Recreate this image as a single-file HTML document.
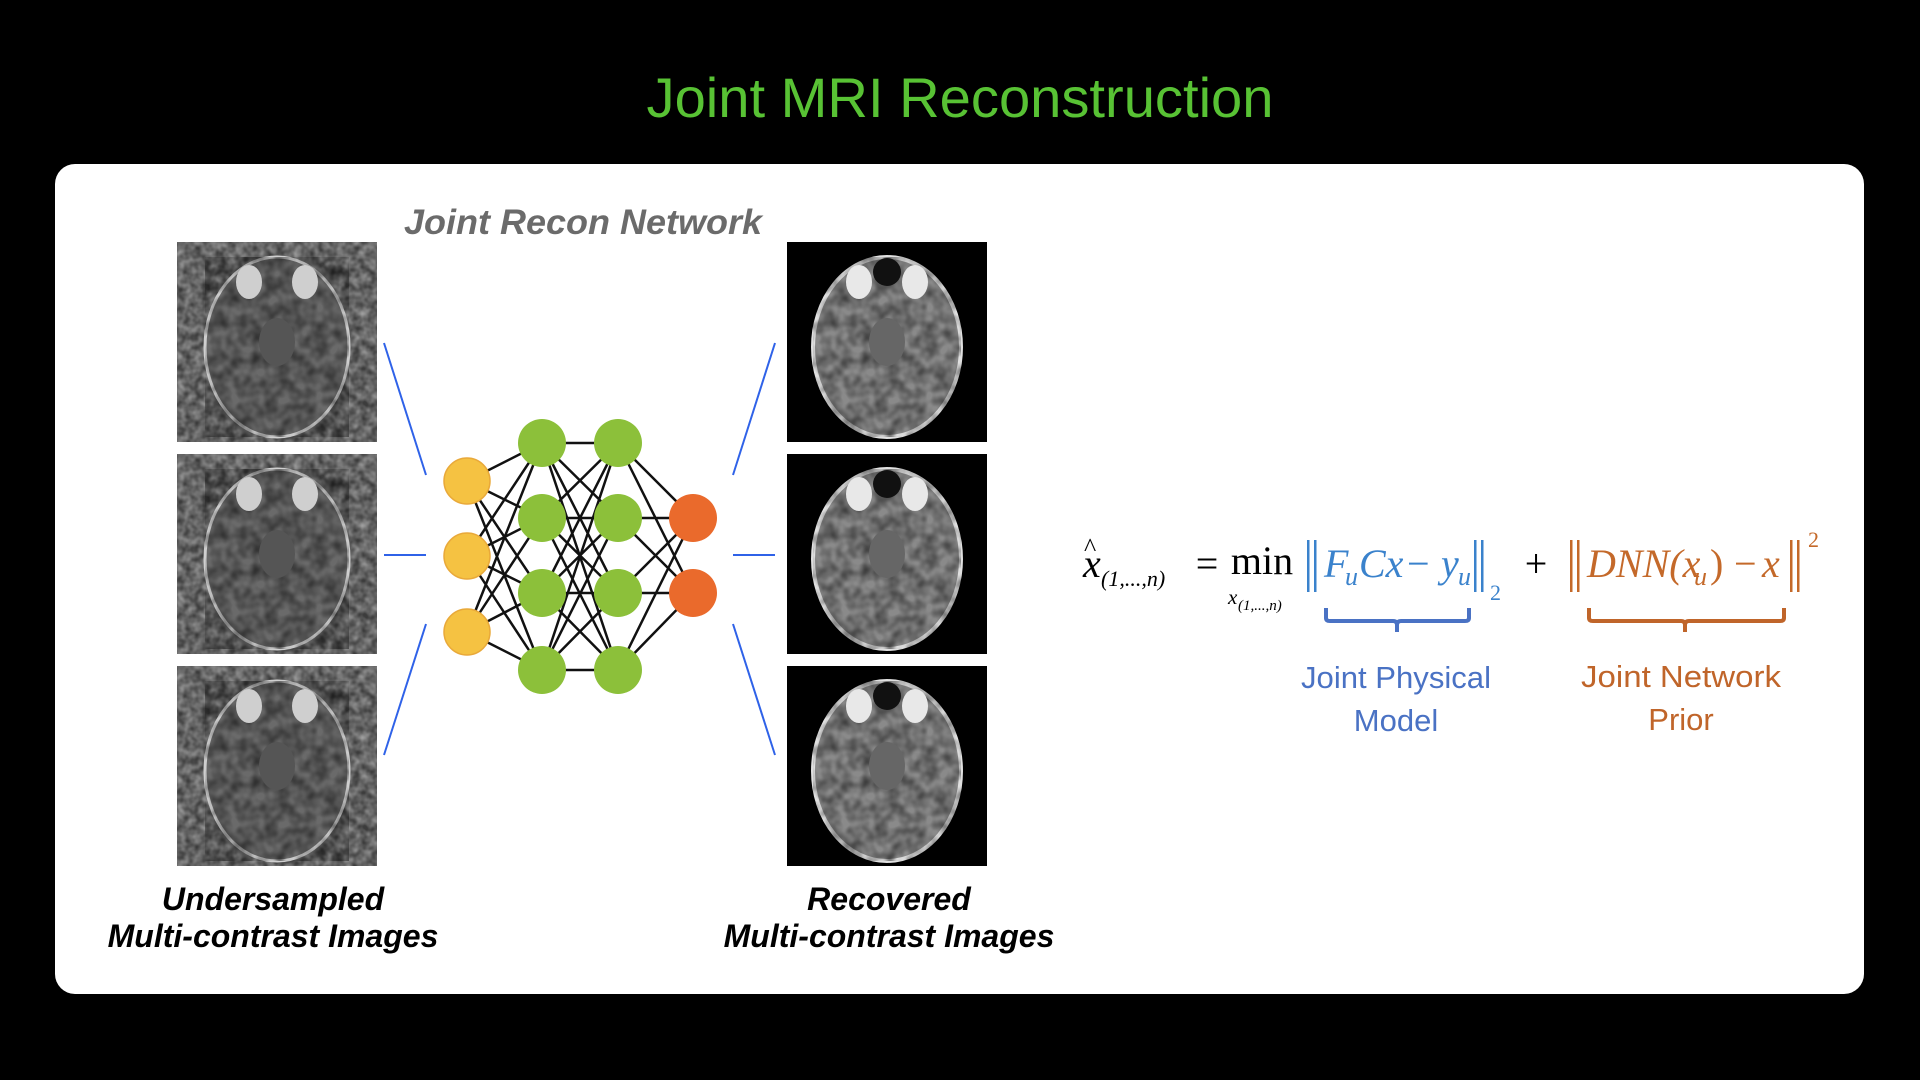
<!DOCTYPE html>
<html><head><meta charset="utf-8"><style>
html,body{margin:0;padding:0;background:#000;width:1920px;height:1080px;overflow:hidden}
svg{display:block}
</style></head><body>
<svg width="1920" height="1080" viewBox="0 0 1920 1080" xmlns="http://www.w3.org/2000/svg">
<defs>
<filter id="noise" x="0" y="0" width="100%" height="100%">
<feTurbulence type="fractalNoise" baseFrequency="0.12" numOctaves="2" seed="3"/>
<feColorMatrix type="matrix" values="0 0 0 0 0.35  0 0 0 0 0.35  0 0 0 0 0.35  0 0 0 1.4 -0.3"/>
</filter>
<filter id="tex" x="0" y="0" width="100%" height="100%">
<feTurbulence type="fractalNoise" baseFrequency="0.08" numOctaves="2" seed="7"/>
<feColorMatrix type="matrix" values="0 0 0 0 0  0 0 0 0 0  0 0 0 0 0  0 0 0 0.9 -0.25"/>
</filter>
<g id="brainN">
<rect width="200" height="200" fill="#3c3c3c"/>
<rect width="200" height="200" filter="url(#noise)"/>
<ellipse cx="100" cy="105" rx="72" ry="90" fill="#6a6a6a" stroke="#cfcfcf" stroke-width="3"/>
<ellipse cx="100" cy="105" rx="72" ry="90" filter="url(#tex)"/>
<ellipse cx="72" cy="40" rx="13" ry="17" fill="#cfcfcf"/>
<ellipse cx="128" cy="40" rx="13" ry="17" fill="#cfcfcf"/>
<ellipse cx="100" cy="100" rx="18" ry="24" fill="#555"/>
</g>
<g id="brainC">
<rect width="200" height="200" fill="#000"/>
<ellipse cx="100" cy="105" rx="74" ry="90" fill="#8a8a8a" stroke="#e0e0e0" stroke-width="4"/>
<ellipse cx="100" cy="105" rx="74" ry="90" filter="url(#tex)"/>
<ellipse cx="72" cy="40" rx="13" ry="17" fill="#e8e8e8"/>
<ellipse cx="128" cy="40" rx="13" ry="17" fill="#e8e8e8"/>
<ellipse cx="100" cy="30" rx="14" ry="14" fill="#111"/>
<ellipse cx="100" cy="100" rx="18" ry="24" fill="#666"/>
</g>
</defs>

<text x="960" y="117" text-anchor="middle" fill="#58c234" font-family="Liberation Sans, sans-serif" font-size="56" textLength="627" lengthAdjust="spacingAndGlyphs">Joint MRI Reconstruction</text>

<rect x="55" y="164" width="1809" height="830" rx="20" fill="#fff"/>

<text x="583" y="234" text-anchor="middle" fill="#6b6b6b" font-family="Liberation Sans, sans-serif" font-size="35" font-weight="bold" font-style="italic" textLength="358" lengthAdjust="spacingAndGlyphs">Joint Recon Network</text>

<use href="#brainN" x="177" y="242"/>
<use href="#brainN" x="177" y="454"/>
<use href="#brainN" x="177" y="666"/>
<use href="#brainC" x="787" y="242"/>
<use href="#brainC" x="787" y="454"/>
<use href="#brainC" x="787" y="666"/>

<g stroke="#2f62e8" stroke-width="2">
<line x1="384" y1="343" x2="426" y2="475"/>
<line x1="384" y1="555" x2="426" y2="555"/>
<line x1="384" y1="755" x2="426" y2="624"/>
<line x1="775" y1="343" x2="733" y2="475"/>
<line x1="733" y1="555" x2="775" y2="555"/>
<line x1="733" y1="624" x2="775" y2="755"/>
</g>

<g stroke="#111" stroke-width="2.5">
<path d="M467 481L542 443M467 481L542 518M467 481L542 593M467 481L542 670
M467 556L542 443M467 556L542 518M467 556L542 593M467 556L542 670
M467 632L542 443M467 632L542 518M467 632L542 593M467 632L542 670
M542 443L618 443M542 443L618 518M542 443L618 593M542 443L618 670
M542 518L618 443M542 518L618 518M542 518L618 593M542 518L618 670
M542 593L618 443M542 593L618 518M542 593L618 593M542 593L618 670
M542 670L618 443M542 670L618 518M542 670L618 593M542 670L618 670
M618 443L693 518M618 443L693 593M618 518L693 518M618 518L693 593
M618 593L693 518M618 593L693 593M618 670L693 518M618 670L693 593"/>
</g>
<g>
<circle cx="467" cy="481" r="23" fill="#f5c242" stroke="#e9a93a" stroke-width="1.5"/>
<circle cx="467" cy="556" r="23" fill="#f5c242" stroke="#e9a93a" stroke-width="1.5"/>
<circle cx="467" cy="632" r="23" fill="#f5c242" stroke="#e9a93a" stroke-width="1.5"/>
<circle cx="542" cy="443" r="24" fill="#8cc03a"/>
<circle cx="542" cy="518" r="24" fill="#8cc03a"/>
<circle cx="542" cy="593" r="24" fill="#8cc03a"/>
<circle cx="542" cy="670" r="24" fill="#8cc03a"/>
<circle cx="618" cy="443" r="24" fill="#8cc03a"/>
<circle cx="618" cy="518" r="24" fill="#8cc03a"/>
<circle cx="618" cy="593" r="24" fill="#8cc03a"/>
<circle cx="618" cy="670" r="24" fill="#8cc03a"/>
<circle cx="693" cy="518" r="24" fill="#ea6a2c"/>
<circle cx="693" cy="593" r="24" fill="#ea6a2c"/>
</g>

<g font-family="Liberation Sans, sans-serif" font-size="32" font-weight="bold" font-style="italic" fill="#000" text-anchor="middle">
<text x="273" y="910">Undersampled</text>
<text x="273" y="947">Multi-contrast Images</text>
<text x="889" y="910">Recovered</text>
<text x="889" y="947">Multi-contrast Images</text>
</g>

<!-- formula -->
<g font-family="Liberation Serif, serif" font-size="40">
<text x="1083" y="577" font-style="italic">x</text>
<text x="1084" y="556" font-size="26">^</text>
<text x="1101" y="586" font-size="22" font-style="italic">(1,...,n)</text>
<text x="1207" y="577" text-anchor="middle">=</text>
<text x="1262" y="574" text-anchor="middle">min</text>
<text x="1228" y="604" font-size="21" font-style="italic">x</text>
<text x="1238" y="610" font-size="15" font-style="italic">(1,...,n)</text>
<g fill="#3a82cc" font-style="italic">
<rect x="1307" y="540" width="2.5" height="52"/><rect x="1314" y="540" width="2.5" height="52"/>
<text x="1324" y="577">F</text>
<text x="1345" y="585" font-size="26">u</text>
<text x="1359" y="577">Cx</text>
<text x="1407" y="577" font-style="normal">−</text>
<text x="1441" y="577">y</text>
<text x="1458" y="585" font-size="26">u</text>
<rect x="1474" y="540" width="2.5" height="52"/><rect x="1481" y="540" width="2.5" height="52"/>
<text x="1490" y="600" font-size="22" font-style="normal">2</text>
</g>
<text x="1536" y="577" text-anchor="middle">+</text>
<g fill="#c4692a" font-style="italic">
<rect x="1570" y="540" width="2.5" height="52"/><rect x="1577" y="540" width="2.5" height="52"/>
<text x="1587" y="577">DNN(x</text>
<text x="1694" y="585" font-size="26">u</text>
<text x="1710" y="577" font-style="normal">)</text>
<text x="1734" y="577" font-style="normal">−</text>
<text x="1762" y="577">x</text>
<rect x="1790" y="540" width="2.5" height="52"/><rect x="1797" y="540" width="2.5" height="52"/>
<text x="1808" y="547" font-size="22" font-style="normal">2</text>
</g>
</g>
<path d="M1326 608V618Q1326 621 1330 621H1393Q1397 621 1397 625V632M1397 625Q1397 621 1401 621H1465Q1469 621 1469 618V608" fill="none" stroke="#4a72c4" stroke-width="4"/>
<path d="M1589 608V618Q1589 621 1593 621H1681Q1685 621 1685 625V632M1685 625Q1685 621 1689 621H1780Q1784 621 1784 618V608" fill="none" stroke="#c0652a" stroke-width="4"/>
<g font-family="Liberation Sans, sans-serif" font-size="31" text-anchor="middle">
<text x="1396" y="688" fill="#4a72c4" textLength="190" lengthAdjust="spacingAndGlyphs">Joint Physical</text>
<text x="1396" y="731" fill="#4a72c4">Model</text>
<text x="1681" y="687" fill="#c0652a" textLength="200" lengthAdjust="spacingAndGlyphs">Joint Network</text>
<text x="1681" y="730" fill="#c0652a">Prior</text>
</g>
</svg>
</body></html>
